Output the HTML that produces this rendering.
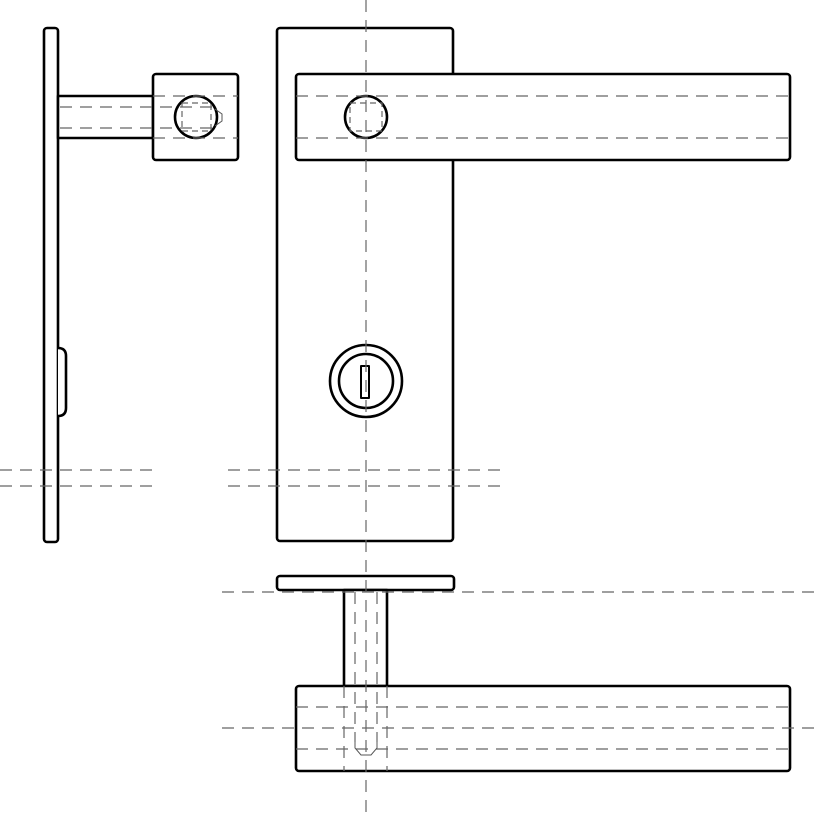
<!DOCTYPE html>
<html><head><style>html,body{margin:0;padding:0;background:#fff}svg{display:block}</style></head><body>
<svg width="818" height="818" viewBox="0 0 818 818" xmlns="http://www.w3.org/2000/svg">
<g fill="#fff" stroke="#000" stroke-width="2.6" stroke-linejoin="round">
<rect x="44" y="28" width="14" height="514" rx="3"/>
<path d="M58 348 Q66 348 66 356 V408 Q66 416 58 416"/>
<rect x="58" y="96" width="95" height="42"/>
<rect x="153" y="74" width="85" height="86" rx="3"/>
<circle cx="196" cy="117" r="21"/>
<rect x="277" y="28" width="176" height="513" rx="3"/>
<rect x="296" y="74" width="494" height="86" rx="3"/>
<circle cx="366" cy="117" r="21"/>
<circle cx="366" cy="381" r="36"/><circle cx="366" cy="381" r="27"/>
<rect x="361" y="366" width="8" height="32" stroke-width="2"/>
<rect x="277" y="576" width="177" height="14" rx="3"/>
<rect x="344" y="590" width="43" height="96"/>
<rect x="296" y="686" width="494" height="85" rx="3"/>
</g>
<g fill="none" stroke="#666" stroke-width="1.2" stroke-dasharray="12,8">
<line x1="366" y1="0" x2="366" y2="818"/>
<line x1="0" y1="470" x2="160" y2="470"/><line x1="0" y1="486" x2="160" y2="486"/>
<line x1="228" y1="470" x2="505" y2="470"/><line x1="228" y1="486" x2="505" y2="486"/>
<line x1="60" y1="107" x2="215" y2="107"/><line x1="60" y1="128" x2="215" y2="128"/>
<line x1="153" y1="96" x2="238" y2="96"/><line x1="153" y1="138" x2="238" y2="138"/>
<rect x="182" y="103" width="29" height="28" stroke-dasharray="6,4"/>
<line x1="296" y1="96" x2="790" y2="96"/><line x1="296" y1="138" x2="790" y2="138"/>
<rect x="350" y="103" width="32" height="28" stroke-dasharray="6,4"/>
<line x1="222" y1="592" x2="818" y2="592"/>
<line x1="222" y1="728" x2="818" y2="728"/>
<line x1="296" y1="707" x2="790" y2="707"/><line x1="296" y1="749" x2="790" y2="749"/>
<line x1="355" y1="592" x2="355" y2="742"/><line x1="377" y1="592" x2="377" y2="742"/>
<line x1="344" y1="686" x2="344" y2="771"/><line x1="387" y1="686" x2="387" y2="771"/>
</g>
<g fill="none" stroke="#555" stroke-width="1">
<path d="M215 109 L222 114 V121 L215 126"/>
<path d="M355 742 V748 L361 755 H371 L377 748 V742"/>
</g>
</svg>
</body></html>
